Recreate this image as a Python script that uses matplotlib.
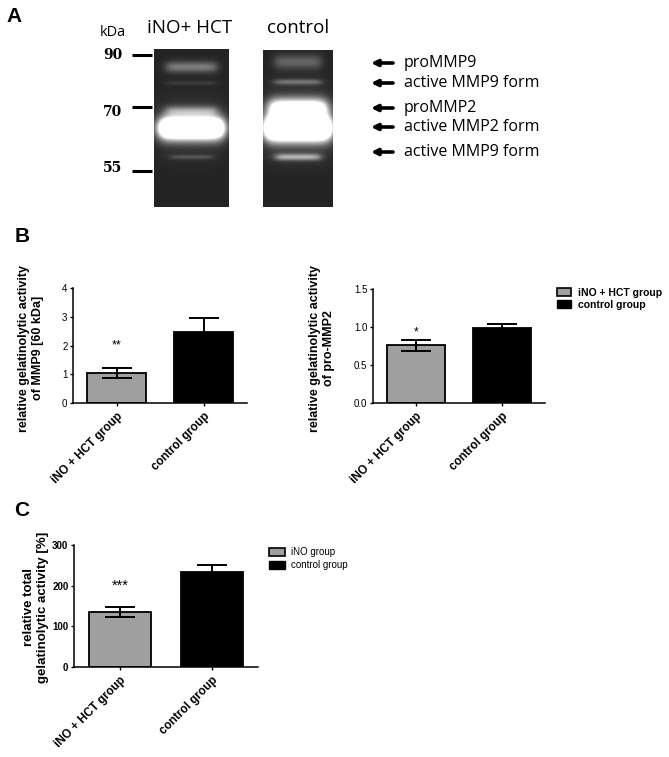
import numpy as np
import matplotlib
matplotlib.use('Agg')
import matplotlib.pyplot as plt
from matplotlib.patches import Patch

plt.rcParams['font.family'] = ['Liberation Sans', 'DejaVu Sans']

# ---- panel A: zymography gel (band positions in px from lane top) ----
marker_kda = ['90', '70', '55']
marker_pos = [55, 107, 171]
marker_label_pos = [55, 112, 168]

band_names = ['proMMP9', 'active MMP9 form', 'proMMP2', 'active MMP2 form', 'active MMP9 form']
band_arrow_pos = [63, 83, 108, 127, 152]

lane_names = ['iNO+ HCT', 'control']
lane1_pos = [18, 34, 62, 79, 108]
lane1_amp = [0.33, 0.09, 0.36, 2.0, 0.16]
lane1_sig = [3.8, 1.5, 3.5, 7.5, 1.6]
lane1_half = [25, 24, 25, 31, 21]

lane2_pos = [12, 32, 58, 78, 107]
lane2_amp = [0.24, 0.28, 1.15, 2.2, 0.5]
lane2_sig = [5.0, 2.0, 6.5, 8.5, 2.4]
lane2_half = [23, 23, 28, 32, 22]

# ---- panels B and C: bar data ----
groups = ['iNO + HCT group', 'control group']
legend_b = ['iNO + HCT group', 'control group']
legend_c = ['iNO group', 'control group']

mmp9_mean = [1.04, 2.47]
mmp9_err = [0.17, 0.49]
mmp9_sig = ['**']
mmp9_sig_y = [2.0]

prommp2_mean = [0.76, 0.99]
prommp2_err = [0.075, 0.055]
prommp2_sig = ['*']
prommp2_sig_y = [0.93]

total_mean = [136, 234]
total_err = [12, 18]
total_sig = ['***']
total_sig_y = [200]

GRAY = '#9f9f9f'
W, H = 669, 757


def box(l, t, r, b):
    return [l / W, 1 - b / H, (r - l) / W, (b - t) / H]


def make_lane(n_rows, n_cols, pos, amp, sig, half, bg=0.14):
    y = np.arange(n_rows)[:, None] + 0.5
    x = np.arange(n_cols)[None, :] + 0.5 - n_cols / 2
    img = np.full((n_rows, n_cols), bg)
    for p, a, s, h in zip(pos, amp, sig, half):
        soft = 3.5 if a > 1 else 2.5
        gy = np.exp(-0.5 * ((y - p) / s) ** 2)
        gx = 1 / (1 + np.exp((np.abs(x) - h) / soft))
        img += a * gy * gx
        # faint halo around the strong bands
        glow_y = np.exp(-0.5 * ((y - p) / (2.5 * s)) ** 2)
        glow_x = 1 / (1 + np.exp((np.abs(x) - h - 3) / 5))
        img += 0.05 * a * glow_y * glow_x
    return np.clip(img, 0, 1)


fig = plt.figure(figsize=(W / 100, H / 100), dpi=100)

# ---------------- A ----------------
ax_a = fig.add_axes(box(0, 0, W, 215))
ax_a.set_xlim(0, W)
ax_a.set_ylim(215, 0)
ax_a.axis('off')

lane1 = make_lane(158, 75, lane1_pos, lane1_amp, lane1_sig, lane1_half)
lane2 = make_lane(157, 70, lane2_pos, lane2_amp, lane2_sig, lane2_half)
ax_a.imshow(lane1, cmap='gray', vmin=0, vmax=1, extent=(154, 229, 207, 49),
            aspect='auto', interpolation='bilinear')
ax_a.imshow(lane2, cmap='gray', vmin=0, vmax=1, extent=(263, 333, 207, 50),
            aspect='auto', interpolation='bilinear')

for lab, p, lp in zip(marker_kda, marker_pos, marker_label_pos):
    ax_a.plot([132, 152], [p, p], color='k', lw=2.2, solid_capstyle='butt')
    ax_a.text(113, lp, lab, ha='center', va='center', fontsize=10,
              fontweight='bold', family='DejaVu Serif')

ax_a.text(113, 32, 'kDa', ha='center', va='center', fontsize=10.5, family='Open Sans')
ax_a.text(190, 28, lane_names[0], ha='center', va='center', fontsize=13.5, family='Open Sans')
ax_a.text(298, 28, lane_names[1], ha='center', va='center', fontsize=13.5, family='Open Sans')

for name, y in zip(band_names, band_arrow_pos):
    ax_a.annotate('', xy=(371, y), xytext=(393, y),
                  arrowprops=dict(arrowstyle='-|>', lw=2.6, color='k',
                                  mutation_scale=9, shrinkA=0, shrinkB=0))
    ax_a.text(404, y, name, ha='left', va='center', fontsize=11.5, family='Open Sans')

fig.text(14 / W, 1 - 16 / H, 'A', ha='center', va='center', fontsize=15, fontweight='bold')
fig.text(22 / W, 1 - 236 / H, 'B', ha='center', va='center', fontsize=15, fontweight='bold')
fig.text(22 / W, 1 - 510 / H, 'C', ha='center', va='center', fontsize=15, fontweight='bold')


def bar_panel(ax, means, errs, ymax, yticks, fmt, sig, sig_y, tick_bold, sig_size):
    x = np.arange(len(means))
    ax.bar(x, means, width=0.67, color=[GRAY, 'black'], edgecolor='black', linewidth=1.3,
           yerr=errs, capsize=11,
           error_kw=dict(elinewidth=1.4, capthick=1.4, ecolor='black'), zorder=2)
    for s, sy in zip(sig, sig_y):
        ax.text(0, sy, s, ha='center', va='center', fontsize=sig_size)
    ax.set_xlim(-0.5, 1.5)
    ax.set_ylim(0, ymax)
    ax.set_yticks(yticks)
    ax.set_yticklabels([fmt.format(v) for v in yticks], fontsize=7,
                       fontweight='bold' if tick_bold else 'normal')
    ax.set_xticks(x)
    ax.set_xticklabels(groups, rotation=45, ha='right', va='top', rotation_mode='anchor',
                       fontsize=8.5, fontweight='bold')
    for side in ['top', 'right']:
        ax.spines[side].set_visible(False)
    for side in ['left', 'bottom']:
        ax.spines[side].set_linewidth(1.1)
    ax.tick_params(axis='both', direction='out', length=2.5, width=1.0, pad=1.5)
    ax.tick_params(axis='x', pad=2.5)


ax_b1 = fig.add_axes(box(73, 288, 247, 403))
bar_panel(ax_b1, mmp9_mean, mmp9_err, 4, [0, 1, 2, 3, 4], '{:.0f}',
          mmp9_sig, mmp9_sig_y, False, 9)
fig.text(31 / W, 1 - 348 / H, 'relative gelatinolytic activity\nof MMP9 [60 kDa]',
         rotation=90, ha='center', va='center', multialignment='center',
         fontsize=9, fontweight='bold')

ax_b2 = fig.add_axes(box(373, 289, 545, 403))
bar_panel(ax_b2, prommp2_mean, prommp2_err, 1.5, [0, 0.5, 1.0, 1.5], '{:.1f}',
          prommp2_sig, prommp2_sig_y, False, 8.5)
fig.text(322 / W, 1 - 348 / H, 'relative gelatinolytic activity\nof pro-MMP2',
         rotation=90, ha='center', va='center', multialignment='center',
         fontsize=9, fontweight='bold')

fig.legend([Patch(facecolor=GRAY, edgecolor='black', linewidth=1.2),
            Patch(facecolor='black', edgecolor='black')], legend_b,
           loc='upper left', bbox_to_anchor=(557 / W, 1 - 288 / H), frameon=False,
           prop=dict(size=7.5, weight='bold'), handlelength=1.35, handleheight=0.8,
           handletextpad=0.65, labelspacing=0.2, borderpad=0, borderaxespad=0)

ax_c = fig.add_axes(box(74, 545, 258, 667))
bar_panel(ax_c, total_mean, total_err, 300, [0, 100, 200, 300], '{:.0f}',
          total_sig, total_sig_y, True, 10.5)
fig.text(36 / W, 1 - 607 / H, 'relative total\ngelatinolytic activity [%]',
         rotation=90, ha='center', va='center', multialignment='center',
         fontsize=9.5, fontweight='bold')

fig.legend([Patch(facecolor=GRAY, edgecolor='black', linewidth=1.2),
            Patch(facecolor='black', edgecolor='black')], legend_c,
           loc='upper left', bbox_to_anchor=(269 / W, 1 - 547 / H), frameon=False,
           prop=dict(size=7), handlelength=1.6, handleheight=0.9,
           handletextpad=0.7, labelspacing=0.3, borderpad=0, borderaxespad=0)

fig.savefig('out.png', dpi=100)
